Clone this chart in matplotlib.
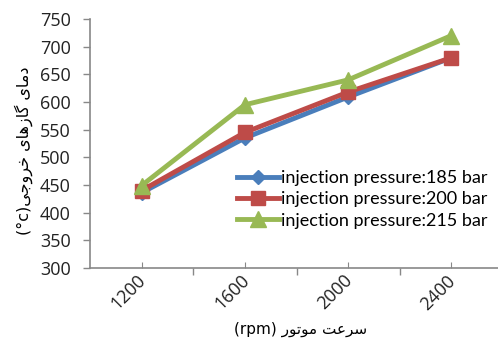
import matplotlib
matplotlib.use("Agg")
import matplotlib.pyplot as plt
from matplotlib.transforms import ScaledTranslation

categories = ["1200", "1600", "2000", "2400"]
p185 = [436, 535, 609, 680]
p200 = [440, 545, 618, 680]
p215 = [449, 595, 640, 720]
series_labels = ["injection pressure:185 bar", "injection pressure:200 bar", "injection pressure:215 bar"]
yticks = [300, 350, 400, 450, 500, 550, 600, 650, 700, 750]

# Persian labels pre-shaped (presentation forms, visual order)
ylabel = "(°c)" + "\uFBFD\uFE9F\uFEED\uFEAE\uFEA7" + " " + "\uFBFC\uFE8E\uFEEB\uFEAF\uFE8E\uFB94" + " " + "\uFBFC\uFE8E\uFEE3\uFEA9"
xlabel = "(rpm) " + "\uFEAD\uFEEE\uFE97\uFEEE\uFEE3" + " " + "\uFE96\uFECB\uFEAE\uFEB3"

plt.rcParams['font.family'] = ['Open Sans', 'DejaVu Sans']

W, H = 498, 342
fig = plt.figure(figsize=(W/100, H/100), dpi=100)
ax = fig.add_axes([90/W, (H-268)/H, 413/W, 249/H])

x = list(range(len(categories)))
ax.plot(x, p185, color="#4A7EBB", lw=3.5, marker="D", ms=7, label=series_labels[0], zorder=3)
ax.plot(x, p200, color="#BE4B48", lw=3.5, marker="s", ms=10, label=series_labels[1], zorder=4)
ax.plot(x, p215, color="#98B954", lw=3.5, marker="^", ms=11, label=series_labels[2], zorder=5)

ax.set_xlim(-0.5, 3.5)
ax.set_ylim(300, 750)
ax.set_yticks(yticks)
ax.tick_params(axis='y', labelsize=13, colors='#888888', length=5, width=1, labelcolor='#222222', pad=9)
ax.set_xticks(x)
ax.set_xticklabels(categories, rotation=45, fontsize=13, color='#222222')
ax.tick_params(axis='x', which='major', direction='in', length=4, colors='#888888', labelcolor='#222222', pad=4)
ax.set_xticks([0.5, 1.5, 2.5], minor=True)
ax.tick_params(axis='x', which='minor', direction='out', length=5, color='#888888', width=1)
off = ScaledTranslation(-13/100, 2/100, fig.dpi_scale_trans)
for lbl in ax.get_xticklabels():
    lbl.set_ha('center')
    lbl.set_transform(lbl.get_transform() + off)

for s in ['top', 'right']:
    ax.spines[s].set_visible(False)
for s in ['left', 'bottom']:
    ax.spines[s].set_color('#888888')
    ax.spines[s].set_linewidth(1.2)

ax.set_ylabel(ylabel, family=['DejaVu Sans'], fontsize=11.5)
ax.yaxis.set_label_coords(-57/413, 0.47)
ax.set_xlabel(xlabel, family=['DejaVu Sans'], fontsize=11)
ax.xaxis.set_label_coords(0.51, -0.215)

leg = ax.legend(loc='upper left', bbox_to_anchor=(0.335, 0.43), frameon=False,
                prop={'family': ['Lato', 'DejaVu Sans'], 'size': 13},
                handlelength=2.3, handletextpad=0.1, labelspacing=0.3, borderpad=0)

fig.savefig("out.png", dpi=100)
